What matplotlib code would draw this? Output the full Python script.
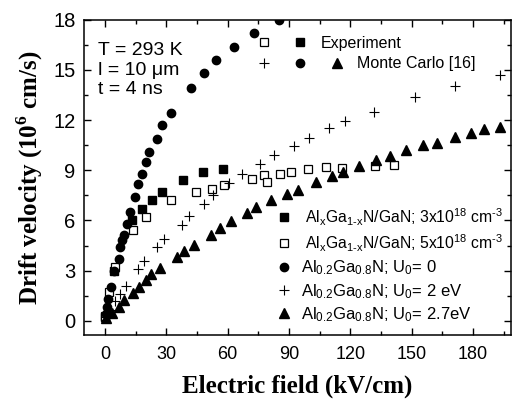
import matplotlib
matplotlib.use("Agg")
import matplotlib.pyplot as plt
from matplotlib.legend_handler import HandlerTuple
from matplotlib.ticker import MultipleLocator

plt.rcParams["font.family"] = ["Liberation Sans", "DejaVu Sans"]
plt.rcParams["mathtext.fontset"] = "custom"
plt.rcParams["mathtext.rm"] = "Liberation Sans"
plt.rcParams["mathtext.it"] = "Liberation Sans:italic"
plt.rcParams["mathtext.bf"] = "Liberation Serif:bold"
plt.rcParams["mathtext.default"] = "rm"

# experiment, 3x10^18 cm^-3 (filled squares)
exp3_x = [0.2, 4.3, 13.4, 18.2, 23.1, 28.0, 38.1, 48.1, 57.9]
exp3_y = [0.25, 3.0, 6.0, 6.7, 7.2, 7.7, 8.4, 8.9, 9.1]

# experiment, 5x10^18 cm^-3 (open squares)
exp5_x = [0.2, 2.0, 5.0, 13.5, 20.2, 32.4, 44.7, 52.3, 58.4, 72.1, 77.6, 79.3,
          85.6, 91.2, 99.5, 108.0, 116.1, 131.9, 141.5]
exp5_y = [0.3, 1.7, 3.2, 5.45, 6.2, 7.25, 7.7, 7.9, 8.1, 8.5, 8.7, 8.3,
          8.8, 8.9, 9.06, 9.2, 9.14, 9.26, 9.34]

# Monte Carlo, U0 = 0 (filled circles)
mc0_x = [0.3, 0.8, 1.5, 2.8, 4.5, 6.6, 7.5, 8.2, 9.1, 10.9, 12.0, 14.7, 16.3,
         18.2, 19.9, 21.6, 25.3, 27.9, 32.5, 42.1, 48.3, 54.5, 63.3, 73.0, 85.3]
mc0_y = [0.4, 0.85, 1.3, 2.0, 2.95, 3.7, 4.4, 4.8, 5.1, 5.8, 6.5, 7.4, 8.2,
         8.8, 9.5, 10.1, 10.9, 11.7, 12.4, 13.9, 14.8, 15.6, 16.4, 17.2, 18.0]

# Monte Carlo, U0 = 2 eV (plus)
mc2_x = [0.3, 2.4, 5.0, 7.5, 10.2, 16.3, 19.0, 25.3, 28.9, 37.8, 41.3, 48.3,
         53.0, 60.8, 66.9, 75.8, 82.7, 92.5, 99.6, 109.6, 117.4, 131.6, 151.7,
         171.2, 193.2]
mc2_y = [0.2, 0.65, 1.2, 1.6, 2.1, 3.1, 3.6, 4.4, 4.9, 5.74, 6.26, 7.0,
         7.5, 8.24, 8.76, 9.4, 9.9, 10.46, 10.96, 11.5, 11.94, 12.5, 13.4,
         14.06, 14.7]

# Monte Carlo, U0 = 2.7 eV (filled triangles)
mc27_x = [0.3, 3.2, 6.7, 9.4, 13.5, 16.5, 19.9, 22.5, 26.9, 35.1, 38.6, 43.7,
          51.9, 56.3, 61.5, 69.3, 73.7, 81.0, 89.0, 94.3, 103.2, 111.2, 116.3,
          124.4, 132.4, 139.4, 147.3, 155.4, 162.6, 171.2, 179.1, 185.4, 193.2]
mc27_y = [0.15, 0.45, 0.82, 1.25, 1.68, 2.0, 2.45, 2.8, 3.16, 3.8, 4.2, 4.56,
          5.14, 5.56, 5.96, 6.46, 6.8, 7.24, 7.58, 7.84, 8.3, 8.64, 8.92,
          9.28, 9.62, 9.86, 10.2, 10.5, 10.66, 11.0, 11.26, 11.44, 11.6]

hy = "\u2010"  # plain hyphen, mathtext would turn "-" into a wide minus
labels = [
    " Al$_x$Ga$_{1" + hy + "x}$N/GaN; 3x10$^{18}$ cm$^{" + hy + "3}$",
    " Al$_x$Ga$_{1" + hy + "x}$N/GaN; 5x10$^{18}$ cm$^{" + hy + "3}$",
    r"Al$_{0.2}$Ga$_{0.8}$N; U$_0$= 0",
    r"Al$_{0.2}$Ga$_{0.8}$N; U$_0$= 2 eV",
    r"Al$_{0.2}$Ga$_{0.8}$N; U$_0$= 2.7eV",
]

fig = plt.figure(figsize=(5.12, 4.05), dpi=100)
ax = fig.add_axes([0.164, 0.173, 0.834, 0.778])

h1, = ax.plot(exp3_x, exp3_y, "s", color="black", ms=5.2, ls="none")
h2, = ax.plot(exp5_x, exp5_y, "s", mfc="white", mec="black", mew=0.9, ms=5.2, ls="none")
h3, = ax.plot(mc0_x, mc0_y, "o", color="black", ms=6, ls="none")
h4, = ax.plot(mc2_x, mc2_y, "+", color="black", ms=6.5, mew=0.8, ls="none")
h5, = ax.plot(mc27_x, mc27_y, "^", color="black", ms=6.5, ls="none")

ax.set_xlim(-10.3, 198.6)
ax.set_ylim(-0.85, 18)
ax.xaxis.set_major_locator(MultipleLocator(30))
ax.xaxis.set_minor_locator(MultipleLocator(15))
ax.yaxis.set_major_locator(MultipleLocator(3))
ax.yaxis.set_minor_locator(MultipleLocator(1.5))
ax.tick_params(which="both", direction="in", top=True, right=True, width=1)
ax.tick_params(which="major", length=5)
ax.tick_params(which="minor", length=3)
ax.tick_params(axis="x", labelsize=13, pad=8)
ax.tick_params(axis="y", labelsize=14.5, pad=6)
for s in ax.spines.values():
    s.set_linewidth(1.1)

ax.set_xlabel("Electric field (kV/cm)", family="Liberation Serif", weight="bold", fontsize=18, labelpad=8)
ax.set_ylabel(r"Drift velocity (10$^{\mathbf{6}}$ cm/s)", family="Liberation Serif", weight="bold",
              fontsize=18, labelpad=6)

ax.text(0.033, 0.93, "T = 293 K\nl = 10 \u03bcm\nt = 4 ns", transform=ax.transAxes,
        fontsize=14, va="top", ha="left", linespacing=1.2)

leg = ax.legend([h1, h2, h3, h4, h5], labels, loc="lower left", bbox_to_anchor=(0.45, 0.035),
                frameon=False, fontsize=12, handlelength=1.0, handletextpad=0.5,
                labelspacing=0.28, borderpad=0, borderaxespad=0, numpoints=1)
# the two long rows are a bit narrower in the original
for t in leg.get_texts()[:2]:
    t.set_fontsize(11.3)
ax.add_artist(leg)

legA = ax.legend([(h2, h1)], ["Experiment"], loc="center left", bbox_to_anchor=(0.378, 0.925),
                 frameon=False, fontsize=11.5, handlelength=4.6, handletextpad=0.1,
                 borderpad=0, borderaxespad=0, numpoints=1,
                 handler_map={tuple: HandlerTuple(ndivide=None, pad=0)})
ax.add_artist(legA)

ax.legend([(h4, h3, h5)], ["Monte Carlo [16]"], loc="center left", bbox_to_anchor=(0.378, 0.860),
          frameon=False, fontsize=11.5, handlelength=6.9, handletextpad=0.1,
          borderpad=0, borderaxespad=0, numpoints=1,
          handler_map={tuple: HandlerTuple(ndivide=None, pad=0)})

fig.savefig("out.png", dpi=100)
